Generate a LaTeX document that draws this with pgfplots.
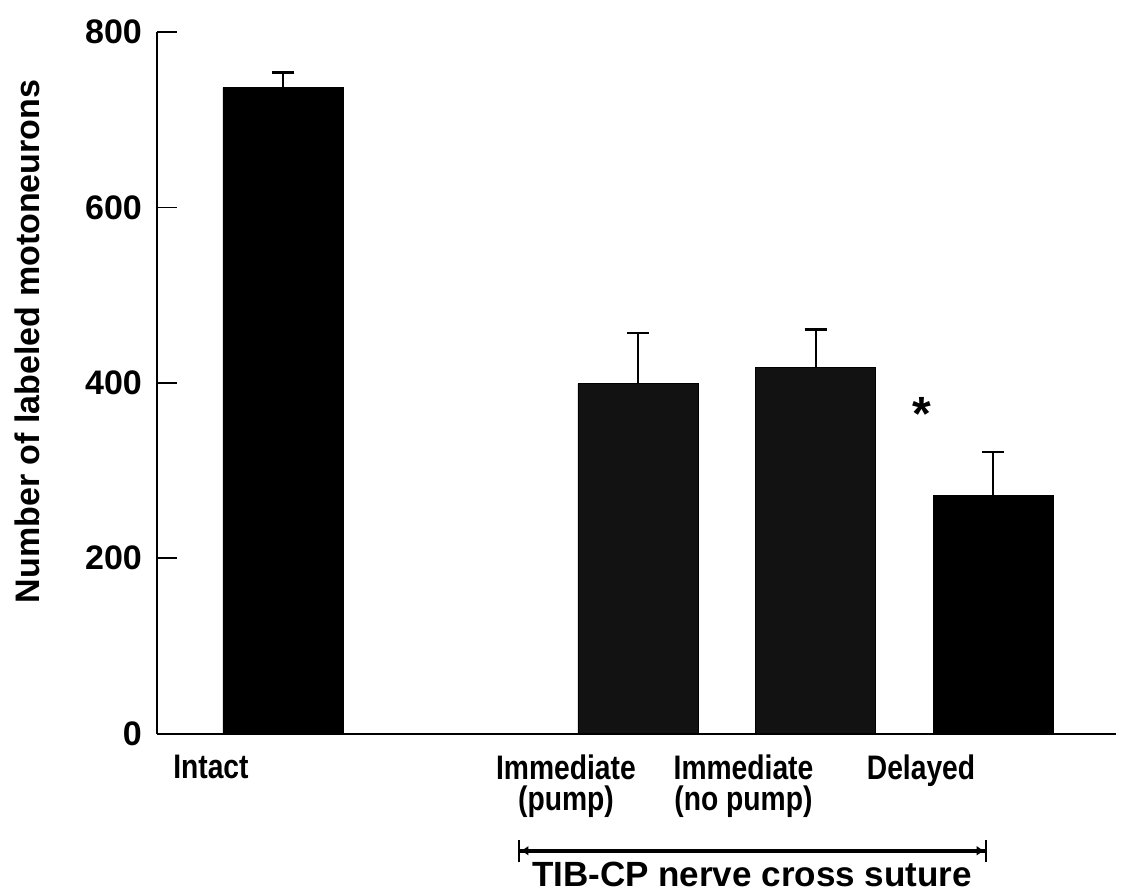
\documentclass[border=0pt]{standalone}
\usepackage{fontspec}
\setmainfont{Liberation Sans}
\newfontfamily\narrowfont[FakeStretch=0.83]{Liberation Sans}
\usepackage{pgfplots}
\pgfplotsset{compat=1.18}
\usetikzlibrary{arrows.meta}

\begin{document}
\begin{tikzpicture}
\begin{axis}[
  scale only axis,
  width=479pt, height=350.5pt,
  xmin=-0.71, xmax=4.69,
  ymin=0, ymax=800,
  clip=false,
  axis x line*=bottom, axis y line*=left,
  axis line style={line width=1pt, black},
  font=\fontsize{17}{19}\selectfont\bfseries,
  /pgf/number format/assume math mode=true,
  ytick={0,200,...,800},
  tick align=inside,
  major tick length=10pt,
  y tick style={line width=0.9pt, black},
  yticklabel style={xshift=-4pt},
  xtick={0,2,3,4},
  xticklabels={Intact, Immediate\\(pump), Immediate\\(no pump), Delayed},
  x tick style={draw=none},
  xticklabel style={align=center, xshift=-36pt, yshift=-7pt,
    font=\narrowfont\fontsize{17}{15.5}\selectfont\bfseries},
  ylabel={Number of labeled motoneurons},
  every axis y label/.style={at={(axis description cs:-0.1357,0.559)}, rotate=90, anchor=center},
]
  % intact and delayed groups
  \addplot[ybar, bar width=60pt, fill=black, draw=black,
    error bars/.cd, y dir=plus, y explicit,
    error bar style={line width=1pt, black},
    error mark options={rotate=90, mark size=5.5pt, line width=1.2pt, black}]
    coordinates {(0,737) +- (0,17) (4,272) +- (0,49)};
  % immediate cross suture groups (stippled in the original)
  \addplot[ybar, bar width=60pt, fill=black!93, draw=black,
    error bars/.cd, y dir=plus, y explicit,
    error bar style={line width=1pt, black},
    error mark options={rotate=90, mark size=5.5pt, line width=1.2pt, black}]
    coordinates {(2,399) +- (0,58) (3,418) +- (0,43)};

  \draw[line width=1pt] (axis cs:-0.71,0) -- ++(-3.5pt,0);
  \node[font=\fontsize{24}{24}\selectfont\bfseries] at (axis cs:3.6,365) {*};

  \draw[line width=2pt, {Bar[width=11pt,line width=1.2pt]Latex[length=4pt,width=5pt]}-{Latex[length=4pt,width=5pt]Bar[width=11pt,line width=1.2pt]}]
    (axis cs:1.324,-133.7) -- (axis cs:3.966,-133.7);
  \node[anchor=base, font=\fontsize{17.5}{19}\selectfont\bfseries] at (axis cs:2.642,-174.5) {TIB-CP nerve cross suture};

  \coordinate (bl) at (axis cs:-1.594,-182.9);
  \coordinate (tr) at (axis cs:4.732,836.6);
\end{axis}
\pgfresetboundingbox
\path[use as bounding box] (bl) rectangle (tr);
\end{tikzpicture}
\end{document}
